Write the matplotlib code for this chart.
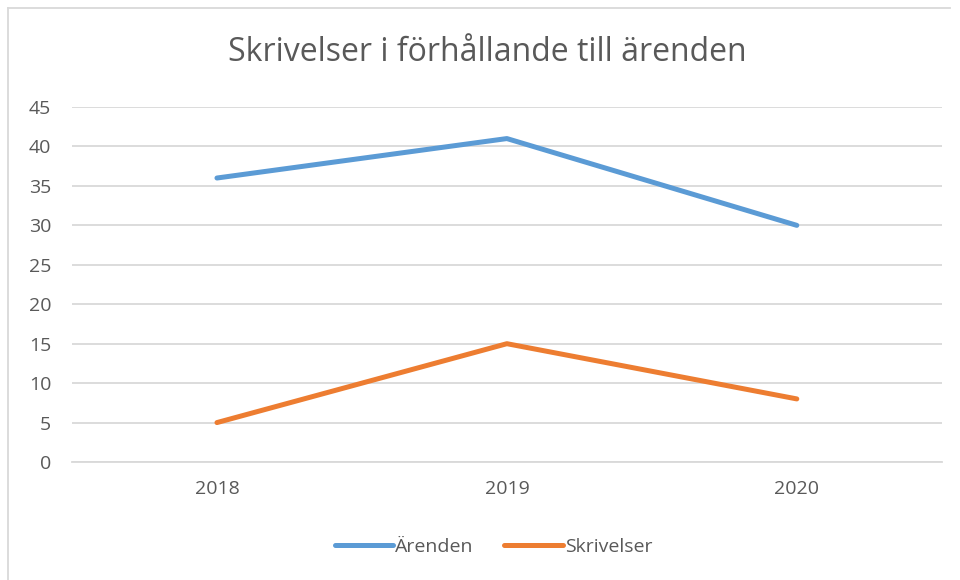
import matplotlib.pyplot as plt
from matplotlib.lines import Line2D

years = ['2018', '2019', '2020']
arenden = [36, 41, 30]
skrivelser = [5, 15, 8]

plt.rcParams['font.family'] = ['Open Sans', 'DejaVu Sans']
text_color = '#595959'

fig = plt.figure(figsize=(9.6, 5.8), dpi=100)
ax = fig.add_axes([0.075, 0.2034, 0.906, 0.6121])

x = range(len(years))
ax.plot(x, arenden, color='#5B9BD5', linewidth=3.6, solid_capstyle='round', label='Ärenden')
ax.plot(x, skrivelser, color='#ED7D31', linewidth=3.6, solid_capstyle='round', label='Skrivelser')

ax.set_xlim(-0.5, 2.5)
ax.set_ylim(0, 45)
ax.set_yticks(range(0, 46, 5))
ax.set_xticks(list(x))
ax.set_xticklabels(years)
ax.grid(axis='y', color='#D9D9D9', linewidth=1.3)
ax.set_axisbelow(True)
for s in ['top', 'right', 'left']:
    ax.spines[s].set_visible(False)
ax.spines['bottom'].set_color('#D9D9D9')
ax.spines['bottom'].set_linewidth(1.3)
ax.tick_params(length=0, colors=text_color, labelsize=14)
ax.tick_params(axis='y', pad=15)
ax.tick_params(axis='x', pad=13)

fig.text(0.508, 0.91, 'Skrivelser i förhållande till ärenden', ha='center', va='center',
         fontsize=23, color=text_color)

handles = [Line2D([], [], color='#5B9BD5', linewidth=3.6, solid_capstyle='round'),
           Line2D([], [], color='#ED7D31', linewidth=3.6, solid_capstyle='round')]
fig.legend(handles, ['Ärenden', 'Skrivelser'], loc='center', bbox_to_anchor=(0.514, 0.057),
           ncol=2, frameon=False, fontsize=14, labelcolor=text_color,
           handlelength=3.0, handletextpad=0.1, columnspacing=1.6)

# chart border (left and top edges)
fig.add_artist(Line2D([8 / 960, 8 / 960], [0, 1 - 8 / 580], transform=fig.transFigure,
                      color='#D9D9D9', linewidth=1.3))
fig.add_artist(Line2D([8 / 960, 950 / 960], [1 - 8 / 580, 1 - 8 / 580], transform=fig.transFigure,
                      color='#D9D9D9', linewidth=1.3))

fig.savefig('out.png', dpi=100)
